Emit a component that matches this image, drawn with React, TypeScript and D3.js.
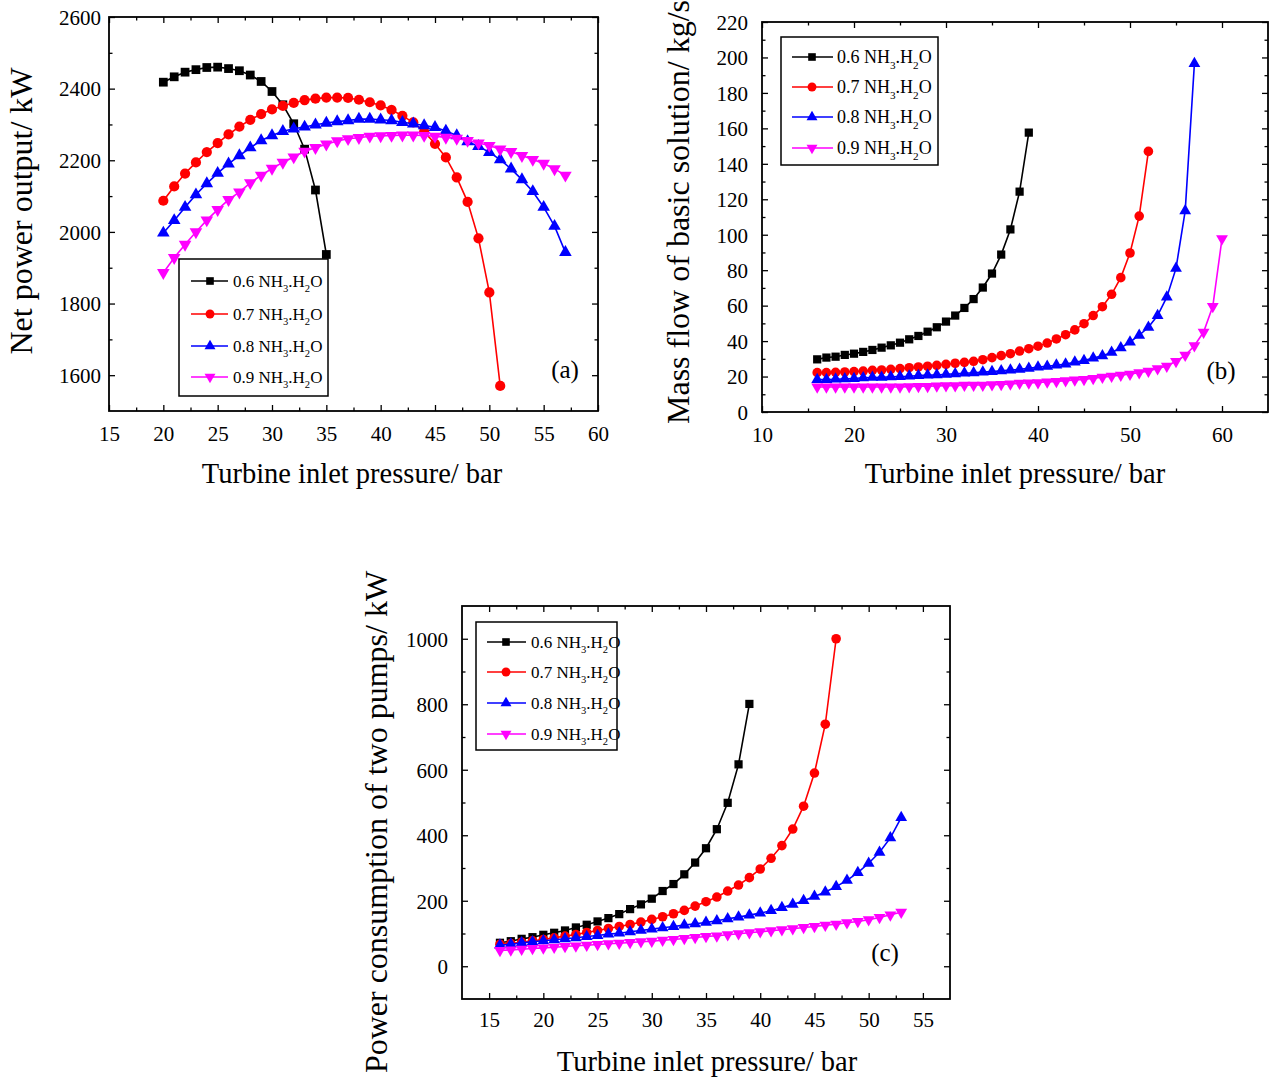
import { useEffect, useRef } from "react";
import * as d3 from "d3";

const FONT = "'Liberation Serif', 'Times New Roman', serif";

const seriesNames = ["0.6", "0.7", "0.8", "0.9"];
const seriesColors = ["#000000", "#ff0000", "#0000ff", "#ff00ff"];

// turbine inlet pressure, bar
const pressureA = [20, 21, 22, 23, 24, 25, 26, 27, 28, 29, 30, 31, 32, 33, 34, 35, 36, 37, 38, 39,
  40, 41, 42, 43, 44, 45, 46, 47, 48, 49, 50, 51, 52, 53, 54, 55, 56, 57];
const pressureB = [16, 17, 18, 19, 20, 21, 22, 23, 24, 25, 26, 27, 28, 29, 30, 31, 32, 33, 34, 35,
  36, 37, 38, 39, 40, 41, 42, 43, 44, 45, 46, 47, 48, 49, 50, 51, 52, 53, 54, 55, 56, 57, 58, 59, 60];

// (a) net power output, kW
const netPower06 = [2418, 2433, 2446, 2453, 2459, 2460, 2456, 2450, 2438, 2420, 2392, 2355, 2302, 2231, 2117, 1937];
const netPower07 = [2087, 2127, 2163, 2194, 2223, 2248, 2272, 2294, 2313, 2329, 2342, 2352, 2360, 2368, 2372, 2375,
  2375, 2374, 2369, 2362, 2353, 2341, 2324, 2306, 2280, 2246, 2208, 2152, 2084, 1982, 1831, 1570];
const netPower08 = [1997, 2032, 2069, 2104, 2135, 2164, 2190, 2213, 2235, 2255, 2269, 2281, 2288, 2293, 2299, 2304,
  2308, 2311, 2315, 2315, 2313, 2311, 2306, 2302, 2297, 2292, 2282, 2269, 2252, 2239, 2222, 2202, 2176, 2146,
  2113, 2069, 2016, 1943];
const netPower09 = [1886, 1928, 1965, 2000, 2033, 2062, 2090, 2111, 2137, 2158, 2177, 2194, 2209, 2225, 2235, 2245,
  2254, 2260, 2263, 2267, 2268, 2269, 2270, 2270, 2269, 2267, 2264, 2261, 2255, 2248, 2241, 2231, 2224, 2213,
  2202, 2191, 2176, 2158];

// (b) mass flow of basic solution, kg/s
const massFlow06 = [29.7, 30.7, 31.2, 32.2, 32.9, 33.9, 35.0, 36.3, 37.6, 39.1, 41.0, 42.9, 45.3, 47.8, 51.0, 54.4,
  58.7, 63.7, 70.2, 78.1, 88.8, 103.0, 124.3, 157.6];
const massFlow07 = [22.2, 22.2, 22.4, 22.6, 22.8, 23.1, 23.5, 23.7, 24.1, 24.5, 25.0, 25.4, 25.8, 26.3, 26.9, 27.5,
  28.0, 28.6, 29.5, 30.7, 31.8, 32.9, 34.4, 35.7, 37.1, 38.9, 41.2, 43.6, 46.3, 49.8, 54.4, 59.4, 66.4, 75.8,
  89.7, 110.5, 147.0];
const massFlow08 = [18.3, 18.3, 18.5, 18.7, 18.9, 19.3, 19.5, 19.6, 19.8, 20.0, 20.2, 20.6, 20.8, 20.9, 21.3, 21.5,
  21.9, 22.1, 22.5, 22.8, 23.2, 23.6, 24.1, 24.7, 25.3, 25.8, 26.4, 27.1, 28.1, 29.0, 30.4, 31.7, 33.6, 36.2,
  39.4, 43.3, 47.8, 54.4, 64.8, 81.0, 113.5, 196.5];
const massFlow09 = [14.1, 14.1, 14.1, 14.1, 14.1, 14.1, 14.1, 14.1, 14.1, 14.1, 14.3, 14.5, 14.5, 14.7, 14.9, 14.9,
  15.1, 15.2, 15.2, 15.4, 15.6, 15.8, 16.2, 16.4, 16.6, 16.9, 17.3, 17.7, 18.1, 18.4, 19.0, 19.6, 20.2, 20.8,
  21.4, 22.2, 23.1, 24.5, 25.9, 28.6, 32.0, 37.4, 45.1, 59.6, 97.8];

// (c) power consumption of two pumps, kW
const pumpPower06 = [71.6, 76.5, 83.7, 88.8, 96.0, 102.2, 109.3, 118.5, 126.7, 136.8, 147.0, 159.2, 174.5, 188.9,
  206.3, 229.7, 251.0, 280.7, 316.5, 360.3, 418.5, 499.0, 616.5, 801.0];
const pumpPower07 = [67.4, 69.4, 73.5, 77.6, 81.7, 86.8, 91.9, 97.0, 103.2, 109.3, 115.4, 121.5, 127.6, 134.8,
  143.0, 151.1, 160.3, 170.5, 183.7, 197.1, 211.3, 229.7, 248.0, 270.5, 297.0, 329.7, 368.4, 419.0, 488.7,
  590.0, 739.0, 1000.0];
const pumpPower08 = [64.3, 67.4, 71.6, 74.7, 77.8, 80.8, 83.9, 86.9, 90.9, 94.0, 98.0, 101.0, 105.1, 109.3, 113.3,
  117.5, 121.5, 125.5, 129.8, 133.8, 139.0, 145.1, 150.0, 156.1, 162.2, 169.6, 178.8, 188.9, 200.2, 213.3,
  226.5, 243.0, 262.3, 285.9, 314.4, 348.0, 391.8, 454.2];
const pumpPower09 = [48.0, 50.1, 52.1, 54.2, 56.2, 58.2, 60.3, 62.4, 64.3, 66.4, 68.6, 70.4, 72.5, 74.7, 76.5,
  79.6, 81.7, 84.8, 87.8, 90.9, 93.0, 96.1, 99.2, 102.2, 105.3, 108.4, 111.4, 114.5, 118.5, 121.5, 125.5,
  128.6, 132.8, 136.8, 142.0, 149.0, 157.0, 165.0];

// tick labels
const xTicksA = [15, 20, 25, 30, 35, 40, 45, 50, 55, 60];
const yTicksA = [1600, 1800, 2000, 2200, 2400, 2600];
const xTicksB = [10, 20, 30, 40, 50, 60];
const yTicksB = [0, 20, 40, 60, 80, 100, 120, 140, 160, 180, 200, 220];
const xTicksC = [15, 20, 25, 30, 35, 40, 45, 50, 55];
const yTicksC = [0, 200, 400, 600, 800, 1000];

const xTitle = "Turbine inlet pressure/ bar";

const panels = [
  {
    left: 109, right: 598, top: 17, bottom: 411,
    xDomain: [15, 60], yDomain: [1500, 2600],
    xTicks: xTicksA, xMinor: d3.range(17.5, 60, 5), yTicks: yTicksA, yMinor: d3.range(1700, 2600, 200),
    xs: pressureA, ys: [netPower06, netPower07, netPower08, netPower09],
    yTitle: "Net power output/ kW", yTitlePos: [32, 211], xTitlePos: [352, 483],
    tag: "(a)", tagPos: [565, 378], yLabelGap: 8, xLabelBase: 30, mark: 1.15,
    legend: { x: 179, y: 259, w: 149, h: 137, rows: [281, 314, 346, 377], l0: 191, l1: 228, mx: 210, tx: 233, font: 17 },
  },
  {
    left: 762, right: 1268, top: 22, bottom: 412,
    xDomain: [10, 65], yDomain: [0, 220],
    xTicks: xTicksB, xMinor: d3.range(15, 60, 10), yTicks: yTicksB, yMinor: d3.range(10, 220, 20),
    xs: pressureB, ys: [massFlow06, massFlow07, massFlow08, massFlow09],
    yTitle: "Mass flow of basic solution/ kg/s", yTitlePos: [689, 212], xTitlePos: [1015, 483],
    tag: "(b)", tagPos: [1221, 379], yLabelGap: 14, xLabelBase: 30, mark: 1.08,
    legend: { x: 781, y: 37, w: 157, h: 128, rows: [57, 87, 117, 148], l0: 792, l1: 833, mx: 812, tx: 837, font: 18 },
  },
  {
    left: 462, right: 950, top: 606, bottom: 999,
    xDomain: [12.5, 57.5], yDomain: [-100, 1100],
    xTicks: xTicksC, xMinor: d3.range(17.5, 55, 5), yTicks: yTicksC, yMinor: d3.range(100, 1100, 200),
    xs: pressureB, ys: [pumpPower06, pumpPower07, pumpPower08, pumpPower09],
    yTitle: "Power consumption of two pumps/ kW", yTitlePos: [387, 822], xTitlePos: [707, 1071],
    tag: "(c)", tagPos: [885, 961], yLabelGap: 14, xLabelBase: 28, mark: 1.08,
    legend: { x: 476, y: 622, w: 141, h: 128, rows: [642, 672, 703, 734], l0: 487, l1: 526, mx: 506, tx: 531, font: 17 },
  },
];

function markerPath(i, s) {
  if (i === 0) return d3.symbol(d3.symbolSquare, 58 * s * s)();
  if (i === 1) return d3.symbol(d3.symbolCircle, 62 * s * s)();
  return d3.symbol(d3.symbolTriangle, 52 * s * s)();
}

function drawPanel(svg, p) {
  const x = d3.scaleLinear().domain(p.xDomain).range([p.left, p.right]);
  const y = d3.scaleLinear().domain(p.yDomain).range([p.bottom, p.top]);
  const g = svg.append("g");

  const axes = [
    [d3.axisBottom(x), p.xTicks, `translate(0,${p.bottom})`, 6, "bottom"],
    [d3.axisBottom(x), p.xMinor, `translate(0,${p.bottom})`, 3.5, ""],
    [d3.axisTop(x), p.xTicks, `translate(0,${p.top})`, 6, ""],
    [d3.axisTop(x), p.xMinor, `translate(0,${p.top})`, 3.5, ""],
    [d3.axisLeft(y), p.yTicks, `translate(${p.left},0)`, 6, "left"],
    [d3.axisLeft(y), p.yMinor, `translate(${p.left},0)`, 3.5, ""],
    [d3.axisRight(y), p.yTicks, `translate(${p.right},0)`, 6, ""],
    [d3.axisRight(y), p.yMinor, `translate(${p.right},0)`, 3.5, ""],
  ];
  axes.forEach(([axis, ticks, tr, len, side]) => {
    axis.tickValues(ticks).tickSizeInner(-len).tickSizeOuter(0).tickPadding(0)
      .tickFormat(side ? d3.format("d") : () => "");
    const a = g.append("g").attr("transform", tr).call(axis)
      .attr("font-family", null).attr("font-size", null);
    a.select(".domain").remove();
    a.selectAll("line").attr("stroke", "#000").attr("stroke-width", 1.3);
    const txt = a.selectAll("text")
      .style("font-family", FONT).style("font-size", "21px").attr("fill", "#000");
    if (side === "bottom") txt.attr("y", p.xLabelBase).attr("dy", null);
    if (side === "left") txt.attr("x", -p.yLabelGap).attr("dy", "0.35em");
  });

  g.append("rect")
    .attr("x", p.left).attr("y", p.top)
    .attr("width", p.right - p.left).attr("height", p.bottom - p.top)
    .attr("fill", "none").attr("stroke", "#000").attr("stroke-width", 1.8);

  const line = d3.line().x(d => x(d[0])).y(d => y(d[1]));
  p.ys.forEach((vals, i) => {
    const pts = vals.map((v, k) => [p.xs[k], v]);
    g.append("path").datum(pts).attr("d", line)
      .attr("fill", "none").attr("stroke", seriesColors[i]).attr("stroke-width", 1.6);
    g.append("g").selectAll("path").data(pts).join("path")
      .attr("transform", d => `translate(${x(d[0])},${y(d[1])})${i === 3 ? " rotate(180)" : ""}`)
      .attr("d", markerPath(i, p.mark))
      .attr("fill", seriesColors[i]);
  });

  // legend
  const lg = p.legend;
  g.append("rect").attr("x", lg.x).attr("y", lg.y).attr("width", lg.w).attr("height", lg.h)
    .attr("fill", "#fff").attr("stroke", "#000").attr("stroke-width", 1.5);
  seriesNames.forEach((name, i) => {
    const ry = lg.rows[i];
    g.append("line").attr("x1", lg.l0).attr("x2", lg.l1).attr("y1", ry).attr("y2", ry)
      .attr("stroke", seriesColors[i]).attr("stroke-width", 1.6);
    g.append("path").attr("transform", `translate(${lg.mx},${ry})${i === 3 ? " rotate(180)" : ""}`)
      .attr("d", markerPath(i, 1.0)).attr("fill", seriesColors[i]);
    const t = g.append("text").attr("x", lg.tx).attr("y", ry + lg.font * 0.33)
      .style("font-family", FONT).style("font-size", lg.font + "px").attr("fill", "#000");
    const sub = lg.font * 0.62, shift = lg.font * 0.32;
    t.append("tspan").text(`${name} NH`);
    t.append("tspan").style("font-size", sub + "px").attr("dy", shift).text("3");
    t.append("tspan").attr("dy", -shift).text(".H");
    t.append("tspan").style("font-size", sub + "px").attr("dy", shift).text("2");
    t.append("tspan").attr("dy", -shift).text("O");
  });

  g.append("text").attr("x", p.tagPos[0]).attr("y", p.tagPos[1])
    .attr("text-anchor", "middle").style("font-family", FONT).style("font-size", "25px").text(p.tag);

  g.append("text").attr("x", p.xTitlePos[0]).attr("y", p.xTitlePos[1])
    .attr("text-anchor", "middle").style("font-family", FONT).style("font-size", "28.5px").text(xTitle);

  g.append("text")
    .attr("transform", `translate(${p.yTitlePos[0]},${p.yTitlePos[1]}) rotate(-90)`)
    .attr("text-anchor", "middle").style("font-family", FONT).style("font-size", "32px").text(p.yTitle);
}

export default function App() {
  const ref = useRef(null);
  useEffect(() => {
    const svg = d3.select(ref.current);
    svg.selectAll("*").remove();
    panels.forEach(p => drawPanel(svg, p));
  }, []);
  return (
    <svg ref={ref} width={1277} height={1080}
      style={{ position: "absolute", left: 0, top: 0, background: "#fff" }} />
  );
}
